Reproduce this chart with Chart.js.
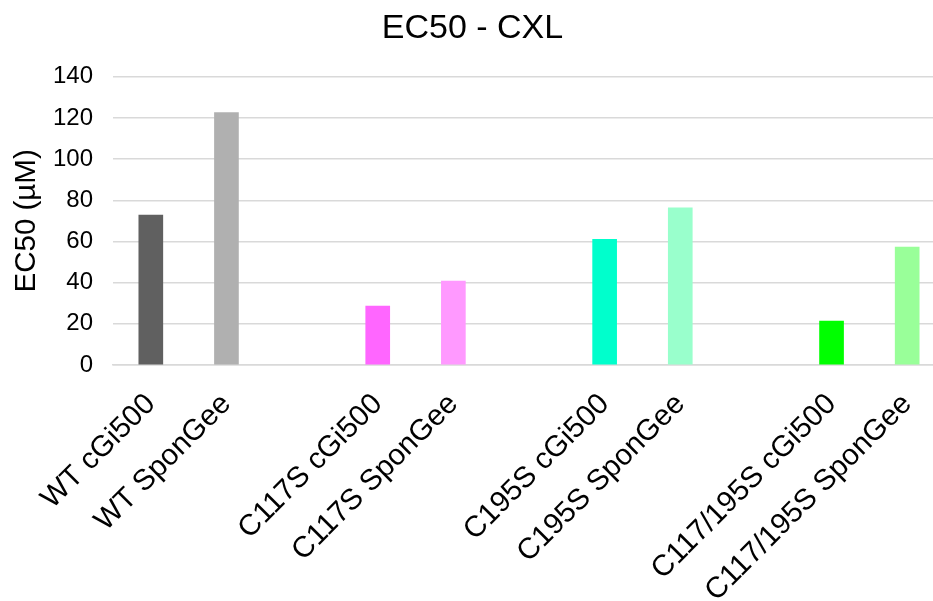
<!DOCTYPE html>
<html>
<head>
<meta charset="utf-8">
<script src="https://cdn.jsdelivr.net/npm/chart.js@4/dist/chart.umd.min.js"></script>
<style>
  html, body { margin: 0; padding: 0; background: #fff; overflow: hidden; }
  #wrap { width: 945px; height: 601px; }
</style>
</head>
<body>
<div id="wrap"><canvas id="c" width="945" height="601"></canvas></div>
<script>
// Constructs, with empty slots separating the four variants
const categories = [
  'WT cGi500', 'WT SponGee', '',
  'C117S cGi500', 'C117S SponGee', '',
  'C195S cGi500', 'C195S SponGee', '',
  'C117/195S cGi500', 'C117/195S SponGee'
];

// EC50 values (µM)
const ec50 = [72.8, 122.6, null, 28.6, 40.8, null, 61.1, 76.4, null, 21.3, 57.3];

const barColors = [
  '#606060', '#b0b0b0', '#ffffff',
  '#ff66ff', '#ff99ff', '#ffffff',
  '#00ffcc', '#99ffcc', '#ffffff',
  '#00ff00', '#99ff99'
];

const yTicks = [0, 20, 40, 60, 80, 100, 120, 140];

const FONT = '"Liberation Sans", Arial, sans-serif';

new Chart(document.getElementById('c'), {
  type: 'bar',
  data: {
    labels: categories,
    datasets: [{
      label: 'EC50',
      data: ec50,
      backgroundColor: barColors,
      borderWidth: 0,
      barThickness: 24
    }]
  },
  options: {
    responsive: false,
    animation: false,
    devicePixelRatio: 1,
    layout: { padding: { left: 0, right: 0, top: 0, bottom: 0 } },
    plugins: {
      legend: { display: false },
      tooltip: { enabled: false },
      title: {
        display: true,
        text: 'EC50 - CXL',
        color: '#000',
        font: { family: FONT, size: 34, weight: 'normal' },
        padding: { top: 8, bottom: 28 }
      }
    },
    scales: {
      x: {
        grid: { display: false, drawTicks: false },
        border: { display: true, color: '#d9d9d9', width: 1.5 },
        ticks: {
          color: '#000',
          font: { family: FONT, size: 29.5 },
          minRotation: 45,
          maxRotation: 45,
          autoSkip: false,
          padding: 22
        },
        afterFit: (s) => {
          s.height = 236;
          s.paddingLeft = 0;
          s.paddingRight = 0;
        }
      },
      y: {
        min: 0,
        max: 140,
        afterBuildTicks: (s) => { s.ticks = yTicks.map(v => ({ value: v })); },
        grid: { color: '#d9d9d9', lineWidth: 1.5, drawTicks: false },
        border: { display: false },
        ticks: {
          color: '#000',
          font: { family: FONT, size: 24 },
          padding: 20
        },
        title: {
          display: true,
          text: 'EC50 (µM)',
          color: '#000',
          font: { family: FONT, size: 29.5 },
          padding: { top: 9, bottom: 0 }
        },
        afterFit: (s) => { s.width = 113; }
      }
    }
  }
});
</script>
</body>
</html>
